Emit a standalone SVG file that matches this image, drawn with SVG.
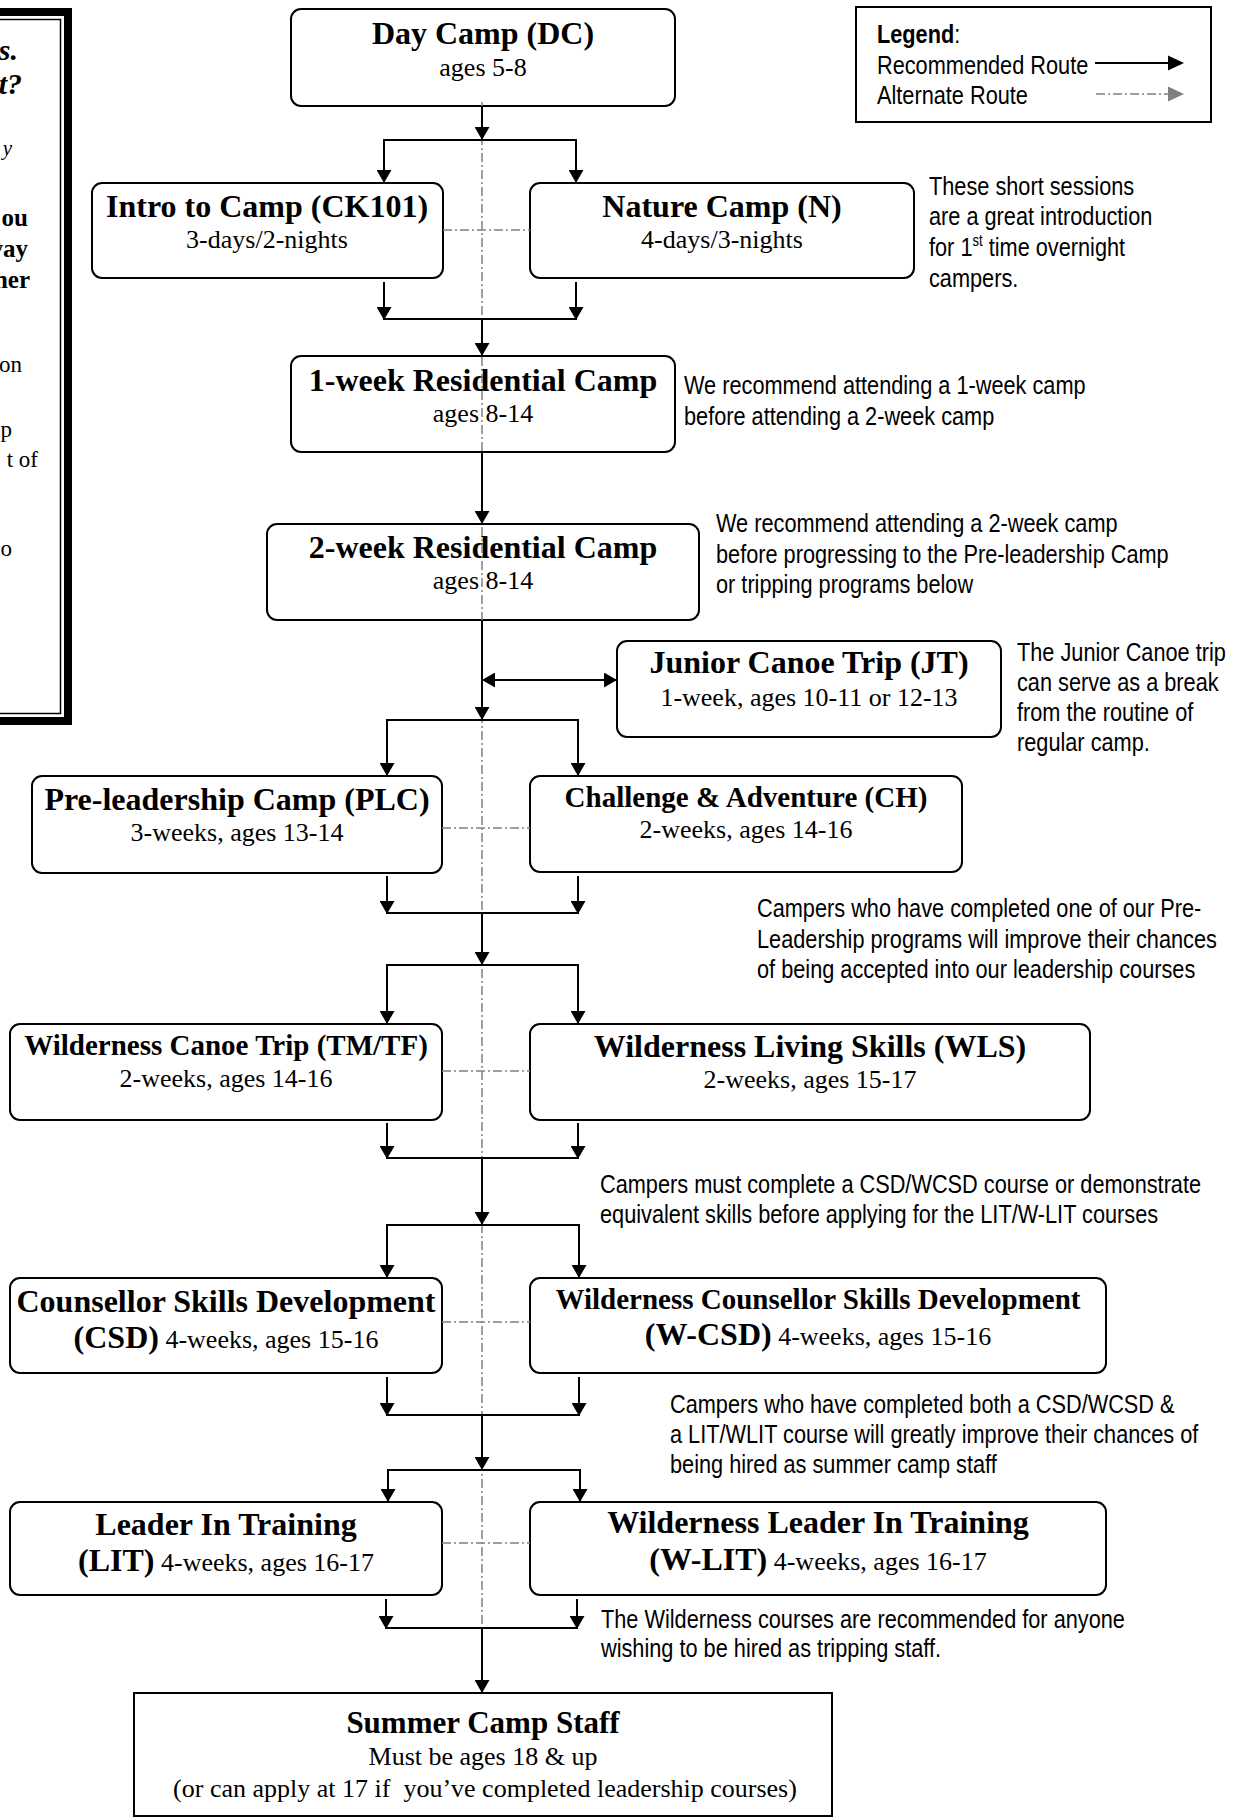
<svg xmlns="http://www.w3.org/2000/svg" width="1242" height="1818" viewBox="0 0 1242 1818">
<style>
.box{fill:#fff;stroke:#000;stroke-width:2}
.t{font-family:"Liberation Serif","Times New Roman",serif;font-weight:bold;font-size:32px;text-anchor:middle;fill:#000}
.t.sm{font-size:29px}
.t.md{font-size:31px}
.s{font-family:"Liberation Serif","Times New Roman",serif;font-size:26px;text-anchor:middle;fill:#000}
.sb{font-weight:bold;font-size:32px}
.n{font-family:"Liberation Sans",Arial,sans-serif;font-size:26.5px;fill:#000}
.p{font-family:"Liberation Serif","Times New Roman",serif;fill:#000;text-anchor:end}
.c{fill:none;stroke:#000;stroke-width:2}
.a{marker-end:url(#ah)}
.alt{fill:none;stroke:#808080;stroke-width:1.5;stroke-dasharray:9 3 2 3}
</style>
<defs>
<marker id="ah" markerUnits="userSpaceOnUse" markerWidth="13" markerHeight="15" refX="13" refY="7.5" orient="auto-start-reverse" viewBox="0 0 13 15">
<path d="M0,0 L13,7.5 L0,15 z" fill="#000"/>
</marker>
</defs>
<rect width="1242" height="1818" fill="#fff"/>

<g id="side-panel">
<rect x="-20" y="12" width="88" height="709" fill="none" stroke="#000" stroke-width="8"/>
<rect x="-20" y="19.5" width="80.5" height="694" fill="none" stroke="#000" stroke-width="1.5"/>
<text class="p" x="18" y="60" font-size="30" font-weight="bold" font-style="italic">s.</text>
<text class="p" x="22" y="94" font-size="30" font-weight="bold" font-style="italic">t?</text>
<text class="p" x="12" y="155" font-size="21" font-style="italic">y</text>
<text class="p" x="28" y="226" font-size="25" font-weight="bold">ou</text>
<text class="p" x="28" y="257" font-size="25" font-weight="bold">vay</text>
<text class="p" x="30" y="288" font-size="25" font-weight="bold">ner</text>
<text class="p" x="22" y="372" font-size="23">on</text>
<text class="p" x="12" y="437" font-size="23">p</text>
<text class="p" x="38" y="467" font-size="23">t of</text>
<text class="p" x="12" y="556" font-size="23">o</text>
</g>

<g id="legend">
<rect x="856" y="7" width="355" height="115" fill="#fff" stroke="#000" stroke-width="2"/>
<g transform="translate(877,0) scale(0.82,1)">
<text class="n" x="0" y="43"><tspan font-weight="bold">Legend</tspan>:</text>
<text class="n" x="0" y="74">Recommended Route</text>
<text class="n" x="0" y="104">Alternate Route</text>
</g>
<line x1="1095" y1="63" x2="1170" y2="63" stroke="#000" stroke-width="2"/>
<polygon points="1168,55.5 1184,63 1168,70.5" fill="#000"/>
<line x1="1096" y1="94" x2="1168" y2="94" class="alt"/>
<polygon points="1168,86.5 1184,94 1168,101.5" fill="#808080"/>
</g>

<g id="day-camp">
<rect class="box" x="291" y="9" width="384" height="97" rx="10"/>
<text class="t" x="483" y="44">Day Camp (DC)</text>
<text class="s" x="483" y="76">ages 5-8</text>
</g>
<g id="intro-camp">
<rect class="box" x="92" y="183" width="351" height="95" rx="10"/>
<text class="t" x="267" y="217">Intro to Camp (CK101)</text>
<text class="s" x="267" y="248">3-days/2-nights</text>
</g>
<g id="nature-camp">
<rect class="box" x="530" y="183" width="384" height="95" rx="10"/>
<text class="t" x="722" y="217">Nature Camp (N)</text>
<text class="s" x="722" y="248">4-days/3-nights</text>
</g>
<g id="one-week">
<rect class="box" x="291" y="356" width="384" height="96" rx="10"/>
<text class="t" x="483" y="391">1-week Residential Camp</text>
<text class="s" x="483" y="422">ages 8-14</text>
</g>
<g id="two-week">
<rect class="box" x="267" y="524" width="432" height="96" rx="10"/>
<text class="t" x="483" y="558">2-week Residential Camp</text>
<text class="s" x="483" y="589">ages 8-14</text>
</g>
<g id="junior-canoe">
<rect class="box" x="617" y="641" width="384" height="96" rx="10"/>
<text class="t" x="809" y="673">Junior Canoe Trip (JT)</text>
<text class="s" x="809" y="706">1-week, ages 10-11 or 12-13</text>
</g>
<g id="pre-leadership">
<rect class="box" x="32" y="776" width="410" height="97" rx="10"/>
<text class="t" x="237" y="810">Pre-leadership Camp (PLC)</text>
<text class="s" x="237" y="841">3-weeks, ages 13-14</text>
</g>
<g id="challenge">
<rect class="box" x="530" y="776" width="432" height="96" rx="10"/>
<text class="t sm" x="746" y="807">Challenge &amp; Adventure (CH)</text>
<text class="s" x="746" y="838">2-weeks, ages 14-16</text>
</g>
<g id="wilderness-canoe">
<rect class="box" x="10" y="1024" width="432" height="96" rx="10"/>
<text class="t sm" x="226" y="1055">Wilderness Canoe Trip (TM/TF)</text>
<text class="s" x="226" y="1087">2-weeks, ages 14-16</text>
</g>
<g id="wilderness-living">
<rect class="box" x="530" y="1024" width="560" height="96" rx="10"/>
<text class="t" x="810" y="1057">Wilderness Living Skills (WLS)</text>
<text class="s" x="810" y="1088">2-weeks, ages 15-17</text>
</g>
<g id="csd">
<rect class="box" x="10" y="1278" width="432" height="95" rx="10"/>
<text class="t" x="226" y="1312">Counsellor Skills Development</text>
<text class="s" x="226" y="1348"><tspan class="sb">(CSD)</tspan> 4-weeks, ages 15-16</text>
</g>
<g id="w-csd">
<rect class="box" x="530" y="1278" width="576" height="95" rx="10"/>
<text class="t sm" x="818" y="1309">Wilderness Counsellor Skills Development</text>
<text class="s" x="818" y="1345"><tspan class="sb">(W-CSD)</tspan> 4-weeks, ages 15-16</text>
</g>
<g id="lit">
<rect class="box" x="10" y="1502" width="432" height="93" rx="10"/>
<text class="t" x="226" y="1535">Leader In Training</text>
<text class="s" x="226" y="1571"><tspan class="sb">(LIT)</tspan> 4-weeks, ages 16-17</text>
</g>
<g id="w-lit">
<rect class="box" x="530" y="1502" width="576" height="93" rx="10"/>
<text class="t" x="818" y="1533">Wilderness Leader In Training</text>
<text class="s" x="818" y="1570"><tspan class="sb">(W-LIT)</tspan> 4-weeks, ages 16-17</text>
</g>
<g id="summer-staff">
<rect x="134" y="1693" width="698" height="123" fill="#fff" stroke="#000" stroke-width="2"/>
<text class="t md" x="483" y="1733">Summer Camp Staff</text>
<text class="s" x="483" y="1765">Must be ages 18 &amp; up</text>
<text class="s" x="485" y="1797">(or can apply at 17 if &#160;you’ve completed leadership courses)</text>
</g>

<g id="notes">
<g transform="translate(929,0) scale(0.82,1)">
<text class="n"><tspan x="0" y="195">These short sessions</tspan><tspan x="0" y="225">are a great introduction</tspan><tspan x="0" y="256">for 1<tspan font-size="16" dy="-10">st</tspan><tspan dy="10"> time overnight</tspan></tspan><tspan x="0" y="287">campers.</tspan></text>
</g>
<g transform="translate(684,0) scale(0.82,1)">
<text class="n"><tspan x="0" y="394">We recommend attending a 1-week camp</tspan><tspan x="0" y="425">before attending a 2-week camp</tspan></text>
</g>
<g transform="translate(716,0) scale(0.82,1)">
<text class="n"><tspan x="0" y="532">We recommend attending a 2-week camp</tspan><tspan x="0" y="563">before progressing to the Pre-leadership Camp</tspan><tspan x="0" y="593">or tripping programs below</tspan></text>
</g>
<g transform="translate(1017,0) scale(0.82,1)">
<text class="n"><tspan x="0" y="661">The Junior Canoe trip</tspan><tspan x="0" y="691">can serve as a break</tspan><tspan x="0" y="721">from the routine of</tspan><tspan x="0" y="751">regular camp.</tspan></text>
</g>
<g transform="translate(757,0) scale(0.82,1)">
<text class="n"><tspan x="0" y="917">Campers who have completed one of our Pre-</tspan><tspan x="0" y="948">Leadership programs will improve their chances</tspan><tspan x="0" y="978">of being accepted into our leadership courses</tspan></text>
</g>
<g transform="translate(600,0) scale(0.82,1)">
<text class="n"><tspan x="0" y="1193">Campers must complete a CSD/WCSD course or demonstrate</tspan><tspan x="0" y="1223">equivalent skills before applying for the LIT/W-LIT courses</tspan></text>
</g>
<g transform="translate(670,0) scale(0.82,1)">
<text class="n"><tspan x="0" y="1413">Campers who have completed both a CSD/WCSD &amp;</tspan><tspan x="0" y="1443">a LIT/WLIT course will greatly improve their chances of</tspan><tspan x="0" y="1473">being hired as summer camp staff</tspan></text>
</g>
<g transform="translate(601,0) scale(0.82,1)">
<text class="n"><tspan x="0" y="1628">The Wilderness courses are recommended for anyone</tspan><tspan x="0" y="1657">wishing to be hired as tripping staff.</tspan></text>
</g>
</g>

<g id="connectors">
<g id="alternate-routes">
<line class="alt" x1="482" y1="102" x2="482" y2="1625"/>
<line class="alt" x1="443" y1="230" x2="530" y2="230"/>
<line class="alt" x1="442" y1="828" x2="530" y2="828"/>
<line class="alt" x1="442" y1="1071" x2="530" y2="1071"/>
<line class="alt" x1="442" y1="1322" x2="530" y2="1322"/>
<line class="alt" x1="442" y1="1543" x2="530" y2="1543"/>
</g>
<g id="recommended-routes">
<line class="c a" x1="482" y1="106" x2="482" y2="140"/>
<line class="c" x1="384" y1="140" x2="576" y2="140"/>
<line class="c a" x1="384" y1="139" x2="384" y2="183"/>
<line class="c a" x1="576" y1="139" x2="576" y2="183"/>
<line class="c a" x1="384" y1="282" x2="384" y2="320"/>
<line class="c a" x1="576" y1="282" x2="576" y2="320"/>
<line class="c" x1="384" y1="319" x2="576" y2="319"/>
<line class="c a" x1="482" y1="319" x2="482" y2="356"/>
<line class="c a" x1="482" y1="452" x2="482" y2="524"/>
<line class="c a" x1="482" y1="620" x2="482" y2="720"/>
<line class="c a" x1="482" y1="680" x2="617" y2="680" marker-start="url(#ah)"/>
<line class="c" x1="387" y1="720" x2="578" y2="720"/>
<line class="c a" x1="387" y1="719" x2="387" y2="776"/>
<line class="c a" x1="578" y1="719" x2="578" y2="776"/>
<line class="c a" x1="387" y1="876" x2="387" y2="914"/>
<line class="c a" x1="578" y1="876" x2="578" y2="914"/>
<line class="c" x1="387" y1="913" x2="578" y2="913"/>
<line class="c a" x1="482" y1="913" x2="482" y2="965"/>
<line class="c" x1="387" y1="965" x2="578" y2="965"/>
<line class="c a" x1="387" y1="964" x2="387" y2="1024"/>
<line class="c a" x1="578" y1="964" x2="578" y2="1024"/>
<line class="c a" x1="387" y1="1123" x2="387" y2="1159"/>
<line class="c a" x1="578" y1="1123" x2="578" y2="1159"/>
<line class="c" x1="387" y1="1158" x2="578" y2="1158"/>
<line class="c a" x1="482" y1="1158" x2="482" y2="1225"/>
<line class="c" x1="387" y1="1225" x2="579" y2="1225"/>
<line class="c a" x1="387" y1="1224" x2="387" y2="1278"/>
<line class="c a" x1="579" y1="1224" x2="579" y2="1278"/>
<line class="c a" x1="387" y1="1377" x2="387" y2="1416"/>
<line class="c a" x1="579" y1="1377" x2="579" y2="1416"/>
<line class="c" x1="387" y1="1415" x2="579" y2="1415"/>
<line class="c a" x1="482" y1="1415" x2="482" y2="1470"/>
<line class="c" x1="388" y1="1470" x2="580" y2="1470"/>
<line class="c a" x1="388" y1="1469" x2="388" y2="1502"/>
<line class="c a" x1="580" y1="1469" x2="580" y2="1502"/>
<line class="c a" x1="386" y1="1599" x2="386" y2="1629"/>
<line class="c a" x1="577" y1="1599" x2="577" y2="1629"/>
<line class="c" x1="386" y1="1628" x2="577" y2="1628"/>
<line class="c a" x1="482" y1="1628" x2="482" y2="1693"/>
</g>
</g>
</svg>
